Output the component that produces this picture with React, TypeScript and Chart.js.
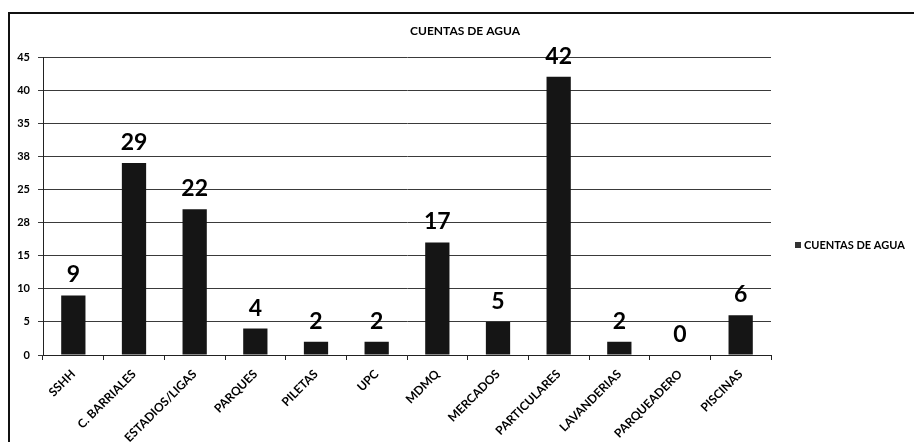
import React, { useEffect, useRef } from "react";
import { Chart, registerables } from "chart.js";

Chart.register(...registerables);

const categories = [
  "SSHH",
  "C. BARRIALES",
  "ESTADIOS/LIGAS",
  "PARQUES",
  "PILETAS",
  "UPC",
  "MDMQ",
  "MERCADOS",
  "PARTICULARES",
  "LAVANDERIAS",
  "PARQUEADERO",
  "PISCINAS",
];
const cuentasDeAgua = [9, 29, 22, 4, 2, 2, 17, 5, 42, 2, 0, 6];
const yTickLabels = ["0", "5", "10", "15", "28", "25", "38", "35", "40", "45"];
const seriesName = "CUENTAS DE AGUA";
const chartTitle = "CUENTAS DE AGUA";

const FONT = "Lato, 'Open Sans', sans-serif";
const BAR_COLOR = "#151515";

const decorPlugin = {
  id: "decor",
  beforeDraw(chart: any) {
    const ctx = chart.ctx;
    ctx.save();
    ctx.fillStyle = "#ffffff";
    ctx.fillRect(0, 0, chart.width, chart.height);
    ctx.restore();
  },
  afterDraw(chart: any) {
    const ctx = chart.ctx;
    ctx.save();
    // frame
    ctx.strokeStyle = "#111";
    ctx.lineWidth = 2;
    ctx.beginPath();
    ctx.moveTo(9, chart.height);
    ctx.lineTo(9, 13);
    ctx.lineTo(chart.width, 13);
    ctx.stroke();
    // title
    ctx.fillStyle = "#000";
    ctx.font = `bold 12px ${FONT}`;
    ctx.textAlign = "center";
    ctx.textBaseline = "alphabetic";
    ctx.fillText(chartTitle, 465, 35);
    // legend
    ctx.fillStyle = "#333";
    ctx.fillRect(795, 242, 6, 6);
    ctx.fillStyle = "#000";
    ctx.font = `bold 11px ${FONT}`;
    ctx.textAlign = "left";
    ctx.textBaseline = "middle";
    ctx.fillText(seriesName, 804, 245.5);
    ctx.restore();
  },
  afterDatasetsDraw(chart: any) {
    const ctx = chart.ctx;
    const meta = chart.getDatasetMeta(0);
    const data = chart.data.datasets[0].data;
    ctx.save();
    ctx.fillStyle = "#000";
    ctx.font = `bold 23px ${FONT}`;
    ctx.textAlign = "center";
    ctx.textBaseline = "alphabetic";
    meta.data.forEach((bar: any, i: number) => {
      ctx.fillText(String(data[i]), bar.x, bar.y - 13);
    });
    ctx.restore();
  },
};

export default function App() {
  const ref = useRef<HTMLCanvasElement | null>(null);

  useEffect(() => {
    if (!ref.current) return;
    const chart = new Chart(ref.current, {
      type: "bar",
      data: {
        labels: categories,
        datasets: [
          {
            label: seriesName,
            data: cuentasDeAgua,
            backgroundColor: BAR_COLOR,
            borderWidth: 0,
            categoryPercentage: 1,
            barPercentage: 0.4,
          },
        ],
      },
      options: {
        responsive: false,
        animation: false,
        layout: { padding: { top: 57, right: 143, left: 0, bottom: 0 } },
        plugins: {
          legend: { display: false },
          title: { display: false },
          tooltip: { enabled: false },
        },
        scales: {
          x: {
            afterFit(scale: any) {
              scale.height = 87;
            },
            grid: {
              offset: true,
              drawOnChartArea: false,
              drawTicks: true,
              tickLength: 5,
              color: "#222",
            },
            border: { display: true, color: "#222", width: 1 },
            ticks: {
              minRotation: 45,
              maxRotation: 45,
              autoSkip: false,
              padding: 7,
              color: "#000",
              font: { family: FONT, size: 12, weight: "bold" },
            },
          },
          y: {
            min: 0,
            max: 45,
            afterFit(scale: any) {
              scale.width = 43;
            },
            grid: {
              color: "#3a3a3a",
              lineWidth: 1,
              tickLength: 5,
            },
            border: { display: true, color: "#222", width: 1 },
            ticks: {
              stepSize: 5,
              padding: 8,
              color: "#000",
              font: { family: FONT, size: 11, weight: "bold" },
              callback: (_v: any, i: number) => yTickLabels[i],
            },
          },
        },
      },
      plugins: [decorPlugin],
    } as any);
    return () => chart.destroy();
  }, []);

  return (
    <div style={{ position: "fixed", left: 0, top: 0, width: 914, height: 442, background: "#fff" }}>
      <canvas ref={ref} width={914} height={442} style={{ display: "block" }} />
    </div>
  );
}
